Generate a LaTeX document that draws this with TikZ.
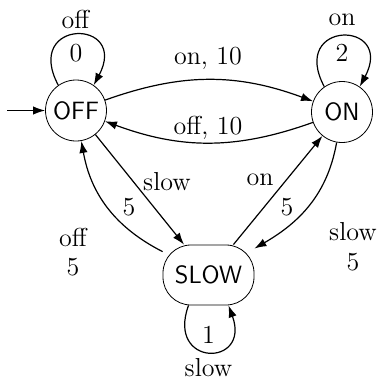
\documentclass[tikz,border=0pt]{standalone}
\usepackage{fontspec}
\usetikzlibrary{arrows.meta,shapes.misc}
\begin{document}
\begin{tikzpicture}[x=0.5pt,y=-0.5pt,
  every node/.style={inner sep=0pt},
  state/.style={draw,circle,minimum size=30.5pt,font=\fontsize{12.5}{15}\sffamily},
  rstate/.style={draw,rectangle,rounded corners=14pt,minimum width=45.5pt,minimum height=30pt,font=\fontsize{12.5}{15}\sffamily},
  lab/.style={font=\fontsize{13}{15}\selectfont},
  edge/.style={line width=0.6pt,-{Latex[length=6pt,width=4.2pt]}}]
\useasboundingbox (0,0) rectangle (379,381);
\node[state] (OFF) at (76,110.5) {OFF};
\node[state] (ON) at (342,112) {ON};
\node[rstate] (SLOW) at (208.5,275) {SLOW};
\coordinate (init) at (7,110.5);
% labels
\node[lab] (l1a) at (75.5,19) {off};
\node[lab] (l1b) at (76,53) {0};
\node[lab] (l2a) at (342,20) {on};
\node[lab] (l2b) at (342,53) {2};
\node[lab] (l3) at (208,58) {on, 10};
\node[lab] (l4) at (208,128) {off, 10};
\node[lab] (l5a) at (167,182) {slow};
\node[lab] (l5b) at (129,207) {5};
\node[lab] (l6a) at (260,180) {on};
\node[lab] (l6b) at (287,207) {5};
\node[lab] (l7a) at (73,237) {off};
\node[lab] (l7b) at (73,267) {5};
\node[lab] (l8a) at (353,232) {slow};
\node[lab] (l8b) at (353,262) {5};
\node[lab] (l9a) at (208.5,335) {1};
\node[lab] (l9b) at (208.5,368) {slow};
% edges
\draw[edge] (init) -- (OFF);
\draw[edge] (OFF.125) .. controls +(118:38pt) and +(62:38pt) .. (OFF.55);
\draw[edge] (ON.125) .. controls +(118:38pt) and +(62:38pt) .. (ON.55);
\draw[edge] ([xshift=-10pt]SLOW.south) .. controls +(-110:33pt) and +(-70:33pt) .. ([xshift=10pt]SLOW.south);
\draw[edge] (OFF) to[bend left=20] (ON);
\draw[edge] (ON) to[bend left=20] (OFF);
\draw[edge] (OFF) -- (SLOW);
\draw[edge] (SLOW) -- (ON);
\draw[edge] (ON) to[out=-100,in=30] (SLOW);
\draw[edge] (SLOW) to[out=153,in=-80] (OFF);
\end{tikzpicture}
\end{document}
